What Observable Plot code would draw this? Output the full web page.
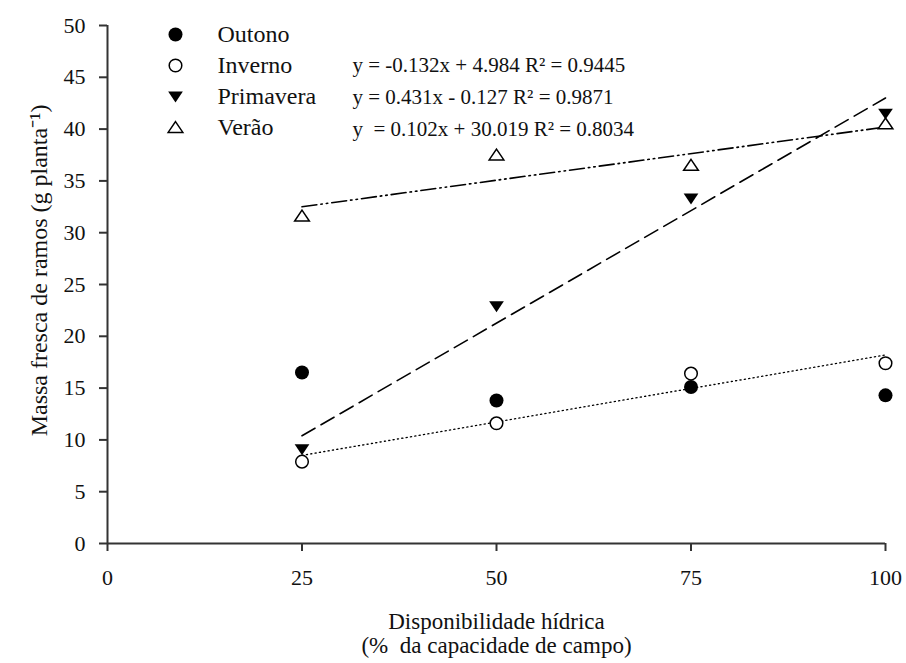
<!DOCTYPE html>
<html>
<head>
<meta charset="utf-8">
<script src="https://cdn.jsdelivr.net/npm/d3@7"></script>
<script src="https://cdn.jsdelivr.net/npm/@observablehq/plot@0.6"></script>
<style>
  html, body { margin: 0; padding: 0; background: #fff; }
  #chart svg { display: block; }
  #chart svg, #chart svg text { font-family: "Liberation Serif", "Times New Roman", serif !important; }
</style>
</head>
<body>
<div id="chart"></div>
<script>
// ---- data ----
const xLevels = [25, 50, 75, 100];
const outono = [16.5, 13.8, 15.1, 14.3];
const inverno = [7.9, 11.6, 16.4, 17.4];
const primavera = [9.1, 22.9, 33.3, 41.5];
const verao = [31.6, 37.5, 36.5, 40.5];

const trendX = [25, 100];
const invernoTrend = [8.5, 18.2];
const primaveraTrend = [10.4, 43.0];
const veraoTrend = [32.5, 40.2];

const seriesNames = ["Outono", "Inverno", "Primavera", "Verão"];
const equations = ["", "y = -0.132x + 4.984 R\u00B2 = 0.9445", "y = 0.431x - 0.127 R\u00B2 = 0.9871", "y  = 0.102x + 30.019 R\u00B2 = 0.8034"];
const xTicks = [0, 25, 50, 75, 100];
const yTicks = [0, 5, 10, 15, 20, 25, 30, 35, 40, 45, 50];
const yLabel = "Massa fresca de ramos (g planta\u207B\u00B9)";
const xLabel = "Disponibilidade hídrica\n(%  da capacidade de campo)";

// ---- symbols ----
const triUp = {draw(ctx, size) { const r = Math.sqrt(size / Math.PI);
  ctx.moveTo(0, -0.85 * r); ctx.lineTo(1.05 * r, 0.7 * r); ctx.lineTo(-1.05 * r, 0.7 * r); ctx.closePath(); }};
const triDown = {draw(ctx, size) { const r = Math.sqrt(size / Math.PI);
  ctx.moveTo(0, 0.85 * r); ctx.lineTo(1.05 * r, -0.7 * r); ctx.lineTo(-1.05 * r, -0.7 * r); ctx.closePath(); }};

const styles = [
  {symbol: "circle", r: 7, fill: "black", stroke: "none", strokeWidth: 0},
  {symbol: "circle", r: 6.3, fill: "white", stroke: "black", strokeWidth: 1.5},
  {symbol: triDown, r: 7, fill: "black", stroke: "none", strokeWidth: 0},
  {symbol: triUp, r: 7, fill: "white", stroke: "black", strokeWidth: 1.5}
];
const values = [outono, inverno, primavera, verao];

const points = values.map((vals, i) => xLevels.map((x, j) => ({x, y: vals[j], s: i})));
const trends = [
  {vals: invernoTrend, dash: "1.2,3.2", width: 1.3},
  {vals: primaveraTrend, dash: "15,7", width: 1.6},
  {vals: veraoTrend, dash: "15,4,1.5,4,1.5,4", width: 1.6}
].map(t => ({...t, data: trendX.map((x, j) => ({x, y: t.vals[j]}))}));

const font = "'Liberation Serif', 'Times New Roman', serif";
const legendY = [9, 40, 71, 102];
const eqY = [10, 40, 72, 104];

const marks = [
  Plot.ruleY([0], {stroke: "#333", strokeWidth: 2}),
  Plot.ruleX([0], {stroke: "#333", strokeWidth: 2}),
  Plot.axisX({ticks: xTicks, tickSize: 8, tickPadding: 18, label: null, fontSize: 22, stroke: "#333", strokeWidth: 2, color: "#111", fontFamily: font}),
  Plot.axisY({ticks: yTicks, tickSize: 8, tickPadding: 14, label: null, fontSize: 22, stroke: "#333", strokeWidth: 2, color: "#111", fontFamily: font}),
  Plot.text([yLabel], {frameAnchor: "left", rotate: -90, textAnchor: "middle", lineAnchor: "middle", dx: -68, dy: -14, fontSize: 24, fill: "#111", fontFamily: font}),
  Plot.text([xLabel], {frameAnchor: "bottom", textAnchor: "middle", lineAnchor: "top", dy: 68, fontSize: 23, lineHeight: 1.06, fill: "#111", fontFamily: font}),
  ...trends.map(t => Plot.line(t.data, {x: "x", y: "y", stroke: "black", strokeWidth: t.width, strokeDasharray: t.dash})),
  ...points.map((pts, i) => Plot.dot(pts, {x: "x", y: "y", ...styles[i]})),
  ...seriesNames.flatMap((name, i) => [
    Plot.dot([name], {frameAnchor: "top-left", dx: 68, dy: legendY[i], ...styles[i]}),
    Plot.text([name], {frameAnchor: "top-left", dx: 110, dy: legendY[i], textAnchor: "start", lineAnchor: "middle", fontSize: 24, fill: "#111", fontFamily: font}),
    Plot.text([equations[i]], {frameAnchor: "top-left", dx: 245, dy: eqY[i], textAnchor: "start", lineAnchor: "middle", fontSize: 21, fill: "#111", fontFamily: font})
  ])
];

const chart = Plot.plot({
  width: 906,
  height: 663,
  marginLeft: 107,
  marginRight: 21,
  marginTop: 25,
  marginBottom: 120,
  style: {fontFamily: font, background: "white"},
  x: {domain: [0, 100]},
  y: {domain: [0, 50]},
  marks
});
document.getElementById("chart").append(chart);
</script>
</body>
</html>
